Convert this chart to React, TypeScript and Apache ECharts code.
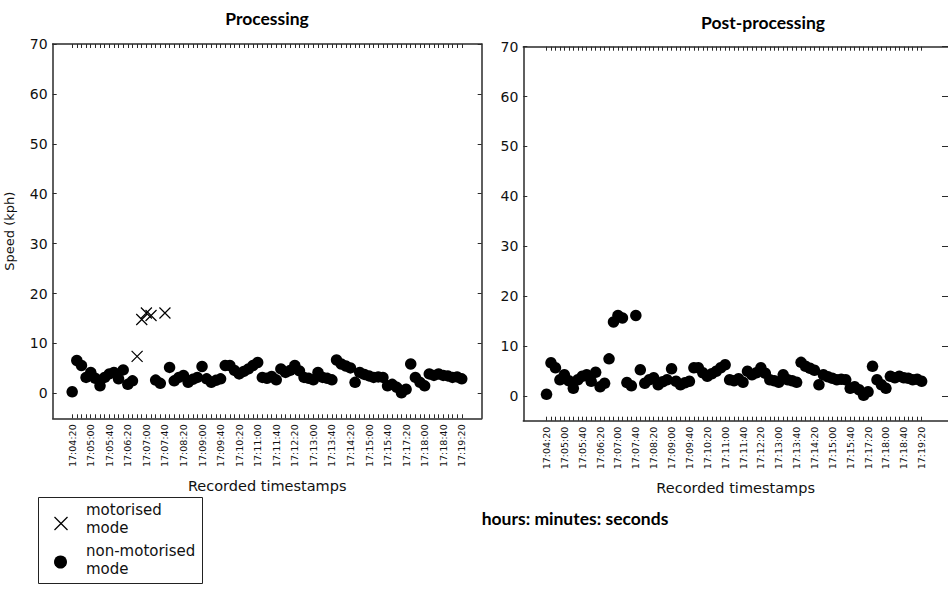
import React, { useEffect, useRef } from 'react';
import * as echarts from 'echarts';

const tickLabels = [
  '17:04:20', '17:05:00', '17:05:40', '17:06:20', '17:07:00', '17:07:40',
  '17:08:20', '17:09:00', '17:09:40', '17:10:20', '17:11:00', '17:11:40',
  '17:12:20', '17:13:00', '17:13:40', '17:14:20', '17:15:00', '17:15:40',
  '17:17:20', '17:18:00', '17:18:40', '17:19:20',
];

// speed (kph) per recorded timestamp (index 0..84)
const speeds = [
  0.3, 6.6, 5.6, 3.2, 4.2, 3.0, 1.5, 3.2, 3.9, 4.2,
  2.9, 4.7, 1.8, 2.5, 7.4, 14.8, 16.1, 15.6, 2.65, 2.0,
  16.1, 5.2, 2.5, 3.2, 3.6, 2.2, 2.8, 3.2, 5.4, 2.9,
  2.2, 2.6, 2.9, 5.6, 5.6, 4.6, 3.9, 4.4, 4.9, 5.6,
  6.2, 3.2, 3.0, 3.4, 2.7, 4.9, 4.2, 4.6, 5.6, 4.5,
  3.2, 3.0, 2.7, 4.2, 3.2, 3.0, 2.7, 6.7, 5.9, 5.5,
  5.1, 2.2, 4.2, 3.8, 3.5, 3.2, 3.3, 3.2, 1.5, 1.8,
  1.2, 0.1, 0.8, 5.9, 3.2, 2.2, 1.5, 3.9, 3.6, 3.9,
  3.6, 3.5, 3.2, 3.3, 2.9,
];

const motorisedIdx = [14, 15, 16, 17, 20];
const yTicks = [0, 10, 20, 30, 40, 50, 60, 70];

export default function App() {
  const ref = useRef<HTMLDivElement>(null);

  useEffect(() => {
    const chart = echarts.init(ref.current!, null, { renderer: 'svg' });
    const font = 'DejaVu Sans';
    const axisColor = '#2a2a2a';
    const textColor = '#111';
    const idx = speeds.map((_, i) => i);
    const labelIdx = tickLabels.map((_, k) => k * 4);
    const nonMot = speeds
      .map((v, i) => [i, v])
      .filter((_, i) => !motorisedIdx.includes(i));
    const mot = motorisedIdx.map((i) => [i, speeds[i]]);
    const all = speeds.map((v, i) => [i, v]);

    const grids = [
      { left: 52.7, top: 44, width: 429, height: 374.3 },
      { left: 523.3, top: 46.7, width: 428.5, height: 374 },
    ];
    const xr = [
      [-4.2, 88.3],
      [-5.2, 89.9],
    ];

    const lineStyle = { color: axisColor, width: 1.5 };
    const xAxes: any[] = [];
    const yAxes: any[] = [];
    grids.forEach((_, gi) => {
      xAxes.push({
        type: 'value',
        gridIndex: gi,
        min: xr[gi][0],
        max: xr[gi][1],
        position: 'bottom',
        axisLine: { show: true, onZero: false, lineStyle },
        axisTick: {
          show: true,
          inside: true,
          length: 4,
          customValues: idx,
          lineStyle: { color: axisColor, width: 1 },
        },
        axisLabel: {
          show: true,
          customValues: labelIdx,
          formatter: (v: number) => tickLabels[Math.round(v / 4)] ?? '',
          rotate: 90,
          fontSize: 9.5,
          fontFamily: font,
          color: textColor,
          margin: 6,
        },
        splitLine: { show: false },
        name: 'Recorded timestamps',
        nameLocation: 'middle',
        nameGap: 60,
        nameTextStyle: { fontSize: 14.5, fontFamily: font, color: textColor },
      });
      xAxes.push({
        type: 'value',
        gridIndex: gi,
        min: xr[gi][0],
        max: xr[gi][1],
        position: 'top',
        axisLine: { show: true, onZero: false, lineStyle },
        axisTick: {
          show: true,
          inside: true,
          length: 4,
          customValues: idx,
          lineStyle: { color: axisColor, width: 1 },
        },
        axisLabel: { show: false },
        splitLine: { show: false },
      });
      yAxes.push({
        type: 'value',
        gridIndex: gi,
        min: -5,
        max: 70,
        position: 'left',
        axisLine: { show: true, onZero: false, lineStyle },
        axisTick: {
          show: true,
          inside: true,
          length: 4,
          customValues: yTicks,
          lineStyle: { color: axisColor, width: 1 },
        },
        axisLabel: {
          show: true,
          customValues: yTicks,
          fontSize: 14,
          fontFamily: font,
          color: textColor,
          margin: 5,
        },
        splitLine: { show: false },
        name: gi === 0 ? 'Speed (kph)' : '',
        nameLocation: 'middle',
        nameGap: 37,
        nameTextStyle: { fontSize: 13, fontFamily: font, color: textColor },
      });
      yAxes.push({
        type: 'value',
        gridIndex: gi,
        min: -5,
        max: 70,
        position: 'right',
        axisLine: { show: gi === 0, onZero: false, lineStyle },
        axisTick: {
          show: true,
          inside: true,
          length: gi === 0 ? 4 : 6,
          customValues: yTicks,
          lineStyle: { color: axisColor, width: 1 },
        },
        axisLabel: { show: false },
        splitLine: { show: false },
      });
    });

    const cross = 'path://M0,0L10,10M10,0L0,10';

    chart.setOption({
      animation: false,
      backgroundColor: '#ffffff',
      grid: grids.map((g) => ({ ...g, containLabel: false })),
      xAxis: xAxes,
      yAxis: yAxes,
      series: [
        {
          type: 'scatter',
          xAxisIndex: 0,
          yAxisIndex: 0,
          data: nonMot,
          symbol: 'circle',
          symbolSize: 11.5,
          itemStyle: { color: '#000', opacity: 1 },
        },
        {
          type: 'scatter',
          xAxisIndex: 0,
          yAxisIndex: 0,
          data: mot,
          symbol: cross,
          symbolSize: 11,
          itemStyle: { color: 'none', borderColor: '#000', borderWidth: 1.2, opacity: 1 },
        },
        {
          type: 'scatter',
          xAxisIndex: 2,
          yAxisIndex: 2,
          data: all,
          symbol: 'circle',
          symbolSize: 11.5,
          itemStyle: { color: '#000', opacity: 1 },
        },
      ],
      graphic: [
        {
          type: 'text',
          x: 267,
          y: 18,
          style: {
            text: 'Processing',
            font: 'bold 17.5px Lato',
            fill: '#000',
            textAlign: 'center',
            textVerticalAlign: 'middle',
          },
        },
        {
          type: 'text',
          x: 763,
          y: 22,
          style: {
            text: 'Post-processing',
            font: 'bold 17.5px Lato',
            fill: '#000',
            textAlign: 'center',
            textVerticalAlign: 'middle',
          },
        },
        {
          type: 'text',
          x: 575,
          y: 518,
          style: {
            text: 'hours: minutes: seconds',
            font: 'bold 17.5px Lato',
            fill: '#000',
            textAlign: 'center',
            textVerticalAlign: 'middle',
          },
        },
        {
          type: 'rect',
          shape: { x: 38.5, y: 497.5, width: 164, height: 86 },
          style: { fill: '#fff', stroke: '#222', lineWidth: 1 },
        },
        {
          type: 'line',
          shape: { x1: 54.5, y1: 517, x2: 67.5, y2: 530 },
          style: { stroke: '#000', lineWidth: 1.3 },
        },
        {
          type: 'line',
          shape: { x1: 54.5, y1: 530, x2: 67.5, y2: 517 },
          style: { stroke: '#000', lineWidth: 1.3 },
        },
        {
          type: 'circle',
          shape: { cx: 60.5, cy: 562, r: 6.5 },
          style: { fill: '#000' },
        },
        {
          type: 'text',
          x: 86,
          y: 501,
          style: {
            text: 'motorised\nmode',
            font: '15px "DejaVu Sans"',
            lineHeight: 18,
            fill: textColor,
          },
        },
        {
          type: 'text',
          x: 86,
          y: 542,
          style: {
            text: 'non-motorised\nmode',
            font: '15px "DejaVu Sans"',
            lineHeight: 18,
            fill: textColor,
          },
        },
      ],
    });

    return () => chart.dispose();
  }, []);

  return (
    <div
      ref={ref}
      style={{ position: 'fixed', left: 0, top: 0, width: 948, height: 591, background: '#fff' }}
    />
  );
}
